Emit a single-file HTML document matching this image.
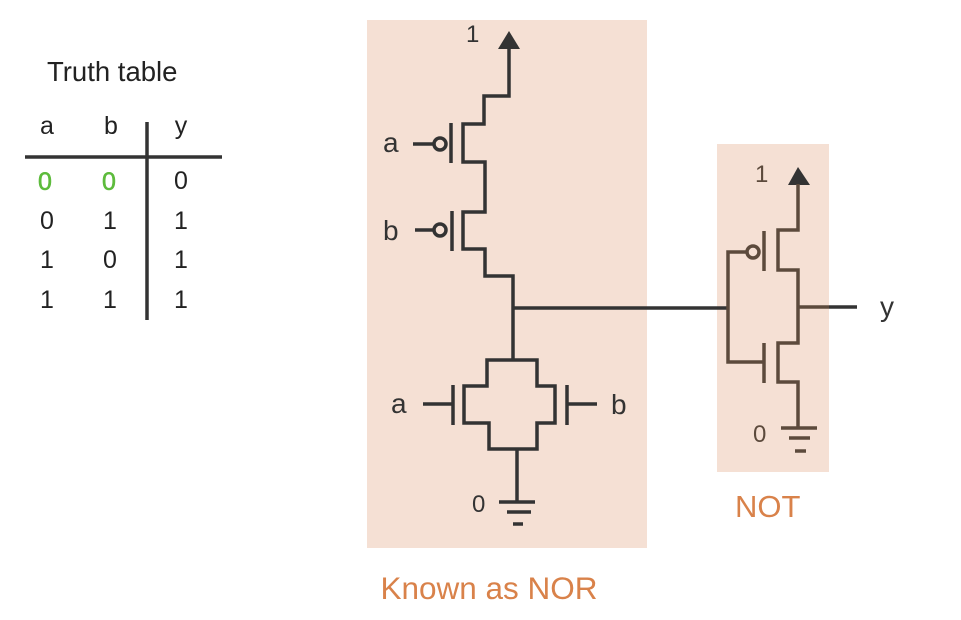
<!DOCTYPE html>
<html><head><meta charset="utf-8"><style>
html,body{margin:0;padding:0;background:#fff;}
svg{display:block;font-family:"Liberation Sans",sans-serif;}
</style></head><body>
<svg width="961" height="620" viewBox="0 0 961 620">
<g font-size="25" fill="#222">
<text x="47" y="81" font-size="27.5">Truth table</text>
<g text-anchor="middle">
<text x="47" y="134">a</text>
<text x="111" y="134">b</text>
<text x="181" y="134">y</text>
<text x="45" y="190" fill="#5dbb3c" stroke="#5dbb3c" stroke-width="0.6">0</text>
<text x="109" y="190" fill="#5dbb3c" stroke="#5dbb3c" stroke-width="0.6">0</text>
<text x="181" y="189">0</text>
<text x="47" y="229">0</text>
<text x="110" y="229">1</text>
<text x="181" y="229">1</text>
<text x="47" y="268">1</text>
<text x="110" y="268">0</text>
<text x="181" y="268">1</text>
<text x="47" y="308">1</text>
<text x="110" y="308">1</text>
<text x="181" y="308">1</text>
</g>
<line x1="25" y1="157" x2="222" y2="157" stroke="#333" stroke-width="3.5"/>
<line x1="147" y1="122" x2="147" y2="320" stroke="#333" stroke-width="3.5"/>
</g>

<rect x="367" y="20" width="280" height="528" fill="#f5e0d4"/>
<rect x="717" y="144" width="112" height="328" fill="#f5e0d4"/>

<g fill="none" stroke="#333" stroke-width="3.5">
<polygon points="509,31 498,49 520,49" fill="#333" stroke="none"/>
<polyline points="509,48 509,96 484,96 484,124 463,124 463,162 485,162 485,212 463,212 463,249 485,249 485,276 513,276 513,360"/>
<line x1="451" y1="123" x2="451" y2="163"/>
<circle cx="440" cy="144" r="6"/>
<line x1="413" y1="144" x2="434" y2="144"/>
<line x1="452" y1="211" x2="452" y2="251"/>
<circle cx="440" cy="230" r="6"/>
<line x1="415" y1="230" x2="434" y2="230"/>
<line x1="513" y1="308" x2="728" y2="308"/>
<polygon points="487,360 537,360 537,386 555,386 555,423 537,423 537,449 489,449 489,423 464,423 464,386 487,386"/>
<line x1="453" y1="385" x2="453" y2="425"/>
<line x1="423" y1="404" x2="453" y2="404"/>
<line x1="567" y1="385" x2="567" y2="425"/>
<line x1="567" y1="404" x2="597" y2="404"/>
<line x1="517" y1="449" x2="517" y2="502"/>
<line x1="499" y1="502" x2="535" y2="502"/>
<line x1="507" y1="512" x2="531" y2="512"/>
<line x1="513" y1="524" x2="523" y2="524"/>
</g>
<g font-size="28" fill="#333">
<text x="466" y="42" font-size="24">1</text>
<text x="383" y="152">a</text>
<text x="383" y="240">b</text>
<text x="391" y="413">a</text>
<text x="611" y="414">b</text>
<text x="472" y="512" font-size="24">0</text>
</g>

<g fill="none" stroke="#5c4a3c" stroke-width="3.5">
<polygon points="798,167 788,185 810,185" fill="#333" stroke="none"/>
<polyline points="798,184 798,230 778,230 778,270 798,270 798,343 778,343 778,382 798,382 798,428"/>
<line x1="764" y1="231" x2="764" y2="271"/>
<circle cx="753" cy="252" r="6"/>
<polyline points="747,252 728,252 728,362 764,362"/>
<line x1="764" y1="343" x2="764" y2="383"/>
<line x1="798" y1="307" x2="829" y2="307"/>
<line x1="829" y1="307" x2="857" y2="307" stroke="#333"/>
<line x1="781" y1="428" x2="817" y2="428"/>
<line x1="789" y1="438" x2="810" y2="438"/>
<line x1="795" y1="451" x2="806" y2="451"/>
</g>
<text x="755" y="182" font-size="24" fill="#5c4a3c">1</text>
<text x="753" y="442" font-size="24" fill="#5c4a3c">0</text>
<text x="880" y="316" font-size="28" fill="#333">y</text>

<text x="735" y="517" font-size="31" fill="#d9824a">NOT</text>
<text x="489" y="599" font-size="31.5" fill="#d9824a" text-anchor="middle">Known as NOR</text>
</svg>
</body></html>
